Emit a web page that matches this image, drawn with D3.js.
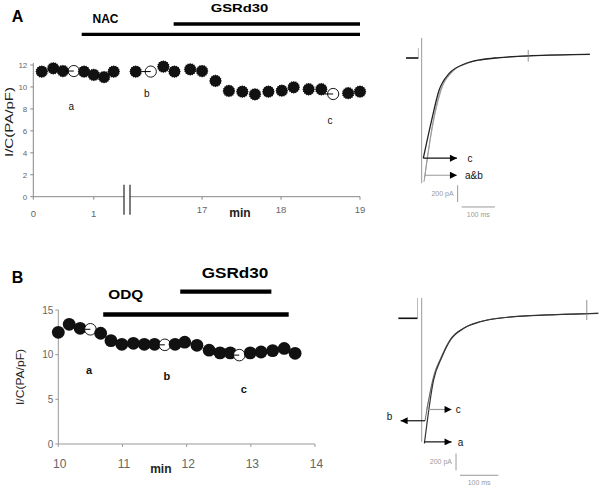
<!DOCTYPE html>
<html><head><meta charset="utf-8">
<script src="https://cdn.jsdelivr.net/npm/d3@7"></script>
<style>
body{margin:0;background:#fff}
svg{display:block}
text{font-family:"Liberation Sans",Arial,sans-serif}
</style>
</head><body>
<svg id="c" width="600" height="489"></svg>
<script>
// ---------- Panel A : time course ----------
const aTimes  = [0.14,0.33,0.49,0.67,0.84,1.0,1.17,1.33,
                 16.16,16.35,16.51,16.65,16.85,17.0,17.17,17.34,17.51,17.67,17.84,18.01,18.16,18.35,18.51,18.66,18.85,19.0];
const aValues = [11.4,11.7,11.45,11.45,11.4,11.1,10.9,11.4,
                 11.4,11.4,11.85,11.4,11.6,11.45,10.55,9.64,9.57,9.33,9.57,9.66,9.97,9.79,9.79,9.36,9.43,9.57];
const aOpen = [3, 9, 23];
const aSampleNames = ["a","b","c"];
const aSampleLabelAt = [[0.63,7.9],[16.3,9.1],[18.62,6.6]];
const aXTicks = [0,1,17,18,19];
const aYTicks = [0,2,4,6,8,10,12];
const aBreak = [1.5, 16.1];
const aDrugs = ["NAC","GSRd30"];
const aDrugStart = [0.8, 16.64];
const aDrugEnd = [19, 19];

// ---------- Panel B : time course ----------
const bTimes  = [10.0,10.17,10.34,10.5,10.66,10.82,10.99,11.17,11.34,11.5,11.66,11.82,11.97,12.16,12.35,12.52,12.68,12.82,12.99,13.16,13.34,13.52,13.69];
const bValues = [12.5,13.4,12.95,12.84,12.4,11.57,11.16,11.27,11.16,11.16,11.1,11.16,11.4,11.05,10.5,10.2,10.2,9.95,10.2,10.3,10.45,10.7,10.15];
const bOpen = [3, 10, 17];
const bSampleNames = ["a","b","c"];
const bSampleLabelAt = [[10.48,7.84],[11.69,7.17],[12.89,5.71]];
const bXTicks = [10,11,12,13,14];
const bYTicks = [0,5,10,15];
const bDrugs = ["ODQ","GSRd30"];
const bDrugStart = [10.7, 11.9];
const bDrugEnd = [13.59, 13.32];

// ---------- current traces (ms, pA) ----------
const aTraceA = [[6,-1484],[34,-744],[56,-384],[86,-184],[136,-64],[186,-16],[236,4],[336,28],[504,44]];
const aTraceB = [[8,-1430],[36,-730],[59,-372],[89,-178],[139,-60],[189,-14],[239,5],[339,28],[504,44]];
const aTraceC = [[4,-1200],[29,-744],[51,-390],[81,-188],[131,-66],[181,-18],[231,4],[331,28],[504,44]];
const aPreStep = [[-48,0],[-11,0]];
const aPreJump = [[-11,0],[-11,120]];
const aArtifact = [[-1,240],[-1,-1500]];
const aMark = [[319,96],[319,-44]];
const aArrowC = [[4,-1200],[105,-1200]];
const aArrowAB = [[9,-1404],[105,-1404]];
const aArrowLabels = [["c",137,-1200],["a&b",129,-1404]];
const aScaleV = [[107,-1524],[107,-1724]];
const aScaleH = [[119,-1784],[219,-1784]];

const bTraceA = [[7,-1500],[31,-740],[53,-461],[75,-260],[110,-120],[153,-41],[240,19],[327,40],[461,60]];
const bTraceB = [[8.7,-1227],[30,-715],[52,-452],[74,-255],[109,-118],[152,-40],[240,19],[327,40],[461,60]];
const bTraceC = [[13,-1092],[33,-690],[55,-440],[77,-250],[112,-115],[155,-39],[240,19],[327,40],[461,60]];
const bPreStep = [[-61,0],[-11,0]];
const bPreJump = [[-11,0],[-11,244]];
const bArtifact = [[0,244],[0,-1480]];
const bMark = [[431,220],[431,-20]];
const bArrowA = [[7,-1480],[78,-1480]];
const bArrowB = [[8.7,-1227],[-55,-1227]];
const bArrowC = [[13,-1092],[78,-1092]];
const bArrowLabels = [["a",94,-1480],["b",-91,-1170],["c",89,-1092]];
const bScaleV = [[89.6,-1620],[89.6,-1820]];
const bScaleH = [[100,-1880],[200,-1880]];

const svg = d3.select("#c");

// fuzzy (slightly spiky) marker shape
const spikes = 16;
const starPts = d3.range(spikes*2).map(i => [i*Math.PI/spikes, i%2 ? 5.5 : 6.4]);
const starPath = d3.lineRadial().curve(d3.curveLinearClosed)(starPts);

// ===== Panel A chart =====
const xA = d3.scaleLinear().domain([0, aBreak[0], aBreak[1], 19]).range([33.3, 124, 131, 360]);
const yA = d3.scaleLinear().domain([0, 12]).range([196.7, 65]);
const gA = svg.append("g");

gA.append("line").attr("x1", xA(0)).attr("x2", xA(0)).attr("y1", yA(12)-2).attr("y2", yA(0)).attr("stroke","#888");
gA.append("line").attr("x1", xA(0)).attr("x2", xA(aBreak[0])).attr("y1", yA(0)).attr("y2", yA(0)).attr("stroke","#888");
gA.append("line").attr("x1", xA(aBreak[1])-1).attr("x2", xA(19)).attr("y1", yA(0)).attr("y2", yA(0)).attr("stroke","#888");
[xA(aBreak[0]), xA(aBreak[1])-1].forEach(x => gA.append("line").attr("x1",x).attr("x2",x).attr("y1",yA(0)-12).attr("y2",yA(0)+18).attr("stroke","#111").attr("stroke-width",1.1));
gA.selectAll(".yt").data(aYTicks).join("line").attr("x1",xA(0)-3).attr("x2",xA(0)).attr("y1",d=>yA(d)).attr("y2",d=>yA(d)).attr("stroke","#888");
gA.selectAll(".ytl").data(aYTicks).join("text").attr("x",xA(0)-6).attr("y",d=>yA(d)+3).attr("text-anchor","end").attr("font-size",8).attr("fill","#666").text(d=>d);
gA.selectAll(".xt").data(aXTicks).join("line").attr("x1",d=>xA(d)).attr("x2",d=>xA(d)).attr("y1",yA(0)).attr("y2",yA(0)+3).attr("stroke","#888");
gA.selectAll(".xtl").data(aXTicks).join("text").attr("x",d=>xA(d)).attr("y",d=>d<10?217.3:213.3).attr("text-anchor","middle").attr("font-size",9.5).attr("fill","#666").text(d=>d);
gA.append("text").attr("x",240).attr("y",216.7).attr("text-anchor","middle").attr("font-size",12).attr("font-weight","bold").attr("fill","#222").text("min");
gA.append("text").attr("transform","translate(12.5,122) rotate(-90)").attr("text-anchor","middle").attr("font-size",11).attr("fill","#222")
  .attr("textLength",70).attr("lengthAdjust","spacingAndGlyphs").text("I/C(PA/pF)");

const aBarY = [34.3, 24];
aDrugs.forEach((d,i) => {
  gA.append("line").attr("x1",xA(aDrugStart[i])).attr("x2",xA(aDrugEnd[i])).attr("y1",aBarY[i]).attr("y2",aBarY[i]).attr("stroke","#000").attr("stroke-width",3.3);
});
gA.append("text").attr("x",105.5).attr("y",22.7).attr("text-anchor","middle").attr("font-size",12).attr("font-weight","bold").text(aDrugs[0]);
gA.append("text").attr("x",239.5).attr("y",11.7).attr("text-anchor","middle").attr("font-size",11.5).attr("font-weight","bold")
  .attr("textLength",57.7).attr("lengthAdjust","spacingAndGlyphs").text(aDrugs[1]);
gA.append("text").attr("x",11.7).attr("y",21.7).attr("font-size",16).attr("font-weight","bold").text("A");

d3.range(aTimes.length).forEach(i => {
  const cx = xA(aTimes[i]), cy = yA(aValues[i]);
  if (aOpen.includes(i)) {
    gA.append("circle").attr("cx",cx).attr("cy",cy).attr("r",5.6).attr("fill","#fff").attr("stroke","#000").attr("stroke-width",0.9);
    gA.append("line").attr("x1",cx-9).attr("x2",cx).attr("y1",cy).attr("y2",cy).attr("stroke","#000").attr("stroke-width",1);
  } else {
    gA.append("path").attr("d",starPath).attr("transform",`translate(${cx},${cy})`).attr("fill","#111");
  }
});
aSampleNames.forEach((n,i) => gA.append("text").attr("x",xA(aSampleLabelAt[i][0])).attr("y",yA(aSampleLabelAt[i][1])).attr("text-anchor","middle").attr("font-size",10).attr("fill","#111").text(n));

// ===== Panel B chart =====
const xB = d3.scaleLinear().domain([10, 14]).range([58.3, 315]);
const yB = d3.scaleLinear().domain([0, 15]).range([444, 310]);
const gB = svg.append("g");
gB.append("line").attr("x1",xB(10)).attr("x2",xB(10)).attr("y1",yB(15)).attr("y2",yB(0)).attr("stroke","#999");
gB.append("line").attr("x1",xB(10)).attr("x2",xB(14)).attr("y1",yB(0)).attr("y2",yB(0)).attr("stroke","#999");
gB.selectAll(".yt").data(bYTicks).join("line").attr("x1",xB(10)-3).attr("x2",xB(10)).attr("y1",d=>yB(d)).attr("y2",d=>yB(d)).attr("stroke","#999");
gB.selectAll(".ytl").data(bYTicks).join("text").attr("x",53.3).attr("y",d=>yB(d)+3.5).attr("text-anchor","end").attr("font-size",10).attr("fill","#666").text(d=>d);
gB.selectAll(".xt").data(bXTicks).join("line").attr("x1",d=>xB(d)).attr("x2",d=>xB(d)).attr("y1",yB(0)).attr("y2",yB(0)+3).attr("stroke","#999");
gB.selectAll(".xtl").data(bXTicks).join("text").attr("x",d=>xB(d)+1.5).attr("y",468.3).attr("text-anchor","middle").attr("font-size",12).attr("fill","#666").text(d=>d);
gB.append("text").attr("x",160.8).attr("y",473.3).attr("text-anchor","middle").attr("font-size",12).attr("font-weight","bold").attr("fill","#222").text("min");
gB.append("text").attr("transform","translate(24,377) rotate(-90)").attr("text-anchor","middle").attr("font-size",11).attr("fill","#222")
  .attr("textLength",56).attr("lengthAdjust","spacingAndGlyphs").text("I/C(PA/pF)");

const bBarY = [314.5, 291.7];
bDrugs.forEach((d,i) => {
  gB.append("line").attr("x1",xB(bDrugStart[i])).attr("x2",xB(bDrugEnd[i])).attr("y1",bBarY[i]).attr("y2",bBarY[i]).attr("stroke","#000").attr("stroke-width",4.3);
});
gB.append("text").attr("x",125.8).attr("y",299).attr("text-anchor","middle").attr("font-size",13.5).attr("font-weight","bold")
  .attr("textLength",35).attr("lengthAdjust","spacingAndGlyphs").text(bDrugs[0]);
gB.append("text").attr("x",235).attr("y",278.3).attr("text-anchor","middle").attr("font-size",14).attr("font-weight","bold")
  .attr("textLength",66.7).attr("lengthAdjust","spacingAndGlyphs").text(bDrugs[1]);
gB.append("text").attr("x",11.7).attr("y",283.3).attr("font-size",16).attr("font-weight","bold").text("B");

d3.range(bTimes.length).forEach(i => {
  const cx = xB(bTimes[i]), cy = yB(bValues[i]);
  if (bOpen.includes(i)) {
    gB.append("circle").attr("cx",cx).attr("cy",cy).attr("r",5.8).attr("fill","#fff").attr("stroke","#000").attr("stroke-width",0.9);
    gB.append("line").attr("x1",cx-5.8).attr("x2",cx).attr("y1",cy).attr("y2",cy).attr("stroke","#000").attr("stroke-width",1);
  } else {
    gB.append("circle").attr("cx",cx).attr("cy",cy).attr("r",6.4).attr("fill","#111");
  }
});
bSampleNames.forEach((n,i) => gB.append("text").attr("x",xB(bSampleLabelAt[i][0])).attr("y",yB(bSampleLabelAt[i][1])).attr("text-anchor","middle").attr("font-size",11).attr("font-weight","bold").attr("fill","#111").text(n));

// ===== traces =====
svg.append("defs").append("marker").attr("id","ah").attr("viewBox","0 0 10 10").attr("refX",10).attr("refY",5)
  .attr("markerWidth",9).attr("markerHeight",7).attr("markerUnits","userSpaceOnUse").attr("orient","auto")
  .append("path").attr("d","M0,0L10,5L0,10Z").attr("fill","#000");

function drawTrace(g, xs, ys, cfg) {
  const line = d3.line().x(d=>xs(d[0])).y(d=>ys(d[1]));
  const curve = d3.line().x(d=>xs(d[0])).y(d=>ys(d[1])).curve(d3.curveMonotoneX);
  g.append("path").attr("d",line(cfg.artifact)).attr("stroke","#999").attr("stroke-width",1).attr("fill","none");
  g.append("path").attr("d",line(cfg.jump)).attr("stroke","#aaa").attr("stroke-width",0.8).attr("fill","none");
  g.append("path").attr("d",line(cfg.pre)).attr("stroke","#111").attr("stroke-width",1.6).attr("fill","none");
  cfg.traces.forEach(t => {
    g.append("path").attr("d",curve(t.data)).attr("stroke",t.color).attr("stroke-width",t.w).attr("fill","none");
  });
  g.append("path").attr("d",line(cfg.mark)).attr("stroke","#777").attr("stroke-width",0.8).attr("fill","none");
  cfg.arrows.forEach(a => g.append("path").attr("d",line(a.data)).attr("stroke",a.color).attr("stroke-width",1.2).attr("fill","none").attr("marker-end","url(#ah)"));
  cfg.labels.forEach(l => g.append("text").attr("x",xs(l[1])).attr("y",ys(l[2])+4).attr("font-size",cfg.labelSize).attr("fill","#111").text(l[0]));
  g.append("path").attr("d",line(cfg.sv)).attr("stroke","#999").attr("stroke-width",1).attr("fill","none");
  g.append("path").attr("d",line(cfg.sh)).attr("stroke","#999").attr("stroke-width",1).attr("fill","none");
  g.append("text").attr("x",xs(cfg.sv[0][0])-4).attr("y",ys((cfg.sv[0][1]+cfg.sv[1][1])/2)+2.5).attr("text-anchor","end").attr("font-size",7).attr("fill","#999").text("200 pA");
  g.append("text").attr("x",xs((cfg.sh[0][0]+cfg.sh[1][0])/2)).attr("y",ys(cfg.sh[0][1])+10).attr("text-anchor","middle").attr("font-size",7).attr("fill","#999").text("100 ms");
}

// Panel A trace: 100 ms = 33.3 px, 200 pA = 16.7 px
const txA = d3.scaleLinear().domain([0, 100]).range([422, 455.3]);
const tyA = d3.scaleLinear().domain([0, -200]).range([58, 74.7]);
drawTrace(svg.append("g"), txA, tyA, {
  artifact: aArtifact, pre: aPreStep, jump: aPreJump, mark: aMark,
  traces: [{data:aTraceB,color:"#aaa",w:1},{data:aTraceA,color:"#999",w:1},{data:aTraceC,color:"#222",w:1.3}],
  arrows: [{data:aArrowC,color:"#111"},{data:aArrowAB,color:"#999"}],
  labels: aArrowLabels, labelSize: 10, sv: aScaleV, sh: aScaleH
});

// Panel B trace: 100 ms = 38.3 px, 200 pA = 16.7 px
const txB = d3.scaleLinear().domain([0, 100]).range([421.7, 460]);
const tyB = d3.scaleLinear().domain([0, -200]).range([318.3, 335]);
drawTrace(svg.append("g"), txB, tyB, {
  artifact: bArtifact, pre: bPreStep, jump: bPreJump, mark: bMark,
  traces: [{data:bTraceC,color:"#aaa",w:1},{data:bTraceB,color:"#666",w:1},{data:bTraceA,color:"#333",w:1.2}],
  arrows: [{data:bArrowA,color:"#111"},{data:bArrowB,color:"#111"},{data:bArrowC,color:"#999"}],
  labels: bArrowLabels, labelSize: 10, sv: bScaleV, sh: bScaleH
});
</script>
</body></html>
